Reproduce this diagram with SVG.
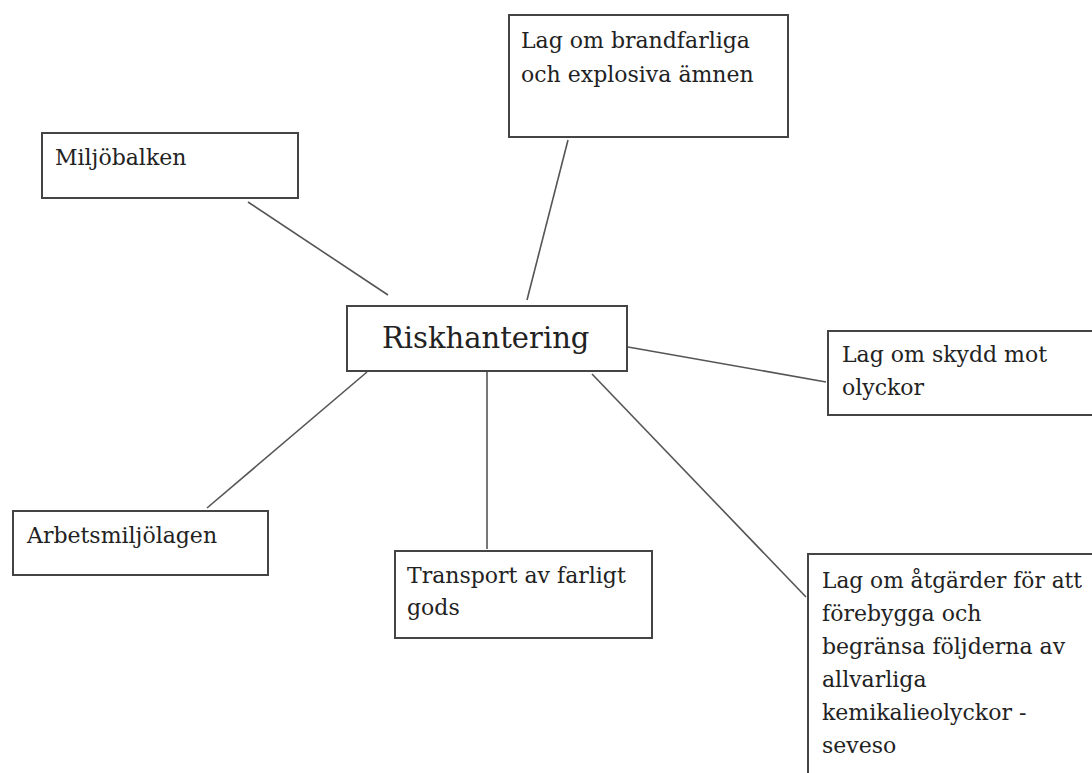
<svg xmlns="http://www.w3.org/2000/svg" width="1092" height="773" viewBox="0 0 1092 773">
<style>
.box{fill:#fff;stroke:#444;stroke-width:2}
.t{font-family:'DejaVu Serif','Liberation Serif',serif;font-size:22px;fill:#222}
.big{font-size:29px}
.c{stroke:#555;stroke-width:1.6;fill:none}
</style>
<rect width="1092" height="773" fill="#fff"/>
<g id="connectors">
<line class="c" x1="248" y1="202" x2="388" y2="295"/>
<line class="c" x1="568" y1="140" x2="527" y2="300"/>
<line class="c" x1="628" y1="347" x2="826" y2="382"/>
<line class="c" x1="367" y1="372" x2="207" y2="508"/>
<line class="c" x1="487" y1="372" x2="487" y2="549"/>
<line class="c" x1="592" y1="374" x2="806" y2="597"/>
</g>
<g id="n-brand">
<rect class="box" x="509" y="15" width="279" height="122"/>
<text class="t" x="521" y="48">Lag om brandfarliga</text>
<text class="t" x="521" y="82">och explosiva ämnen</text>
</g>
<g id="n-miljo">
<rect class="box" x="42" y="133" width="256" height="65"/>
<text class="t" x="55" y="165">Miljöbalken</text>
</g>
<g id="n-risk">
<rect class="box" x="347" y="306" width="280" height="65"/>
<text class="t big" x="382" y="348">Riskhantering</text>
</g>
<g id="n-skydd">
<rect class="box" x="828" y="331" width="266" height="84"/>
<text class="t" x="842" y="362">Lag om skydd mot</text>
<text class="t" x="842" y="395">olyckor</text>
</g>
<g id="n-arbets">
<rect class="box" x="13" y="511" width="255" height="64"/>
<text class="t" x="27" y="543">Arbetsmiljölagen</text>
</g>
<g id="n-transport">
<rect class="box" x="395" y="551" width="257" height="87"/>
<text class="t" x="407" y="583">Transport av farligt</text>
<text class="t" x="407" y="615">gods</text>
</g>
<g id="n-seveso">
<rect class="box" x="808" y="554" width="286" height="230"/>
<text class="t" x="822" y="588" textLength="260" lengthAdjust="spacingAndGlyphs">Lag om åtgärder för att</text>
<text class="t" x="822" y="621">förebygga och</text>
<text class="t" x="822" y="654">begränsa följderna av</text>
<text class="t" x="822" y="687">allvarliga</text>
<text class="t" x="822" y="720">kemikalieolyckor -</text>
<text class="t" x="822" y="753">seveso</text>
</g>
</svg>
